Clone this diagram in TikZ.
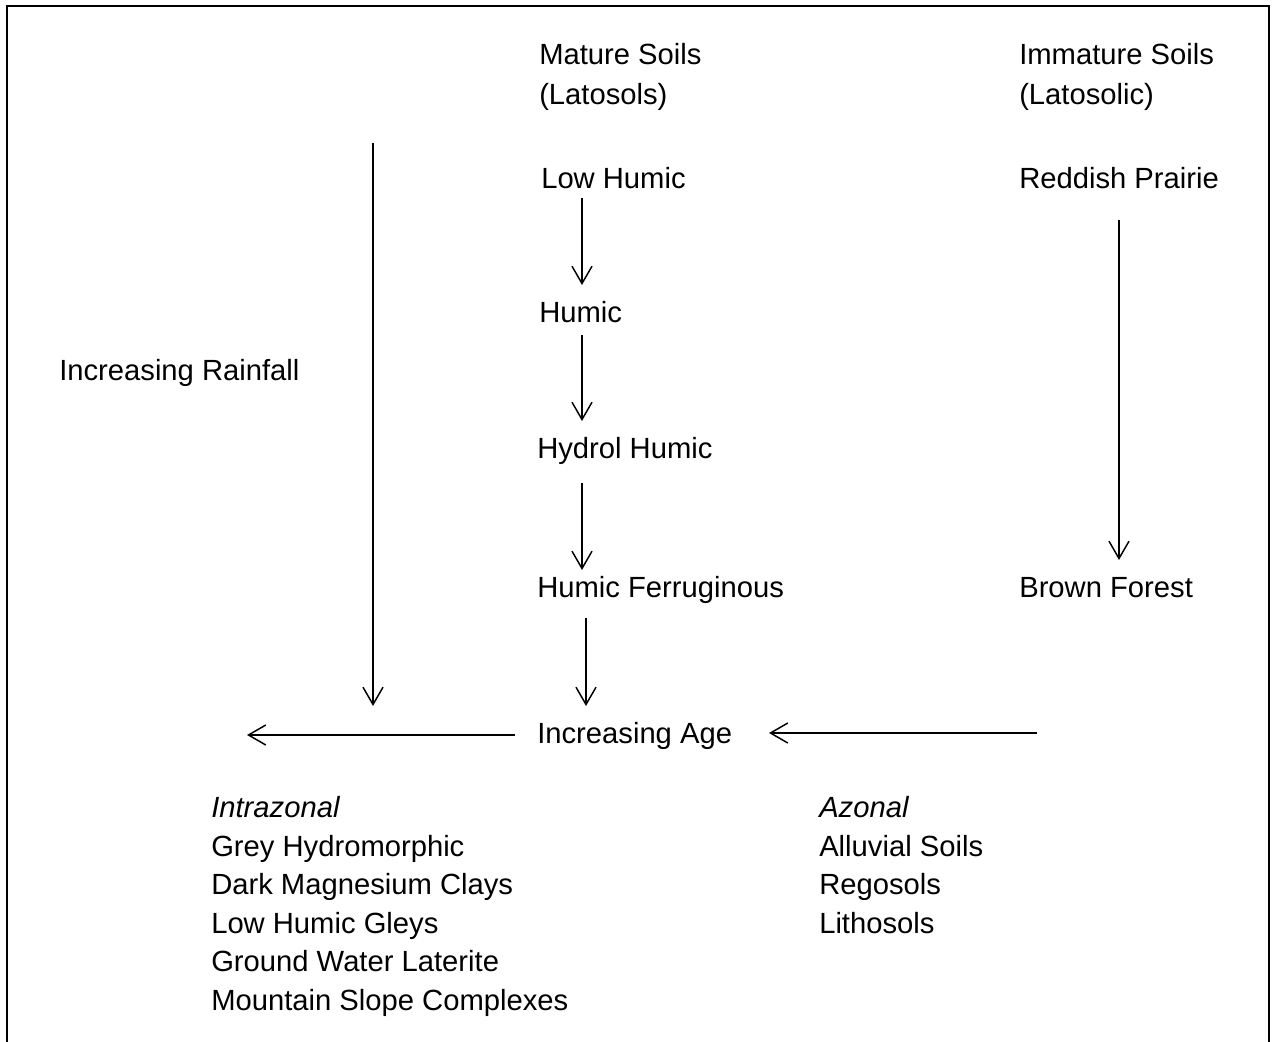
\documentclass[tikz,border=0pt]{standalone}
\usepackage{fontspec}
\setmainfont{Liberation Sans}
\usetikzlibrary{arrows.meta}
\newcommand\fsz{\fontsize{21.9}{28.9}\selectfont}
\begin{document}
\begin{tikzpicture}[x=0.75pt,y=-0.75pt,
  lbl/.style={anchor=base west, inner sep=0pt, font=\fsz},
  arr/.style={line width=1.1pt, -{Straight Barb[length=13pt,width=15pt,line width=1.1pt]}},
  frame/.style={line width=1.5pt}]
\useasboundingbox (0,0) rectangle (1272,1042);
\draw[frame] (7,1042) -- (7,6) -- (1269,6) -- (1269,1042);
% texts
\node[lbl] (ms1) at (539,64) {Mature Soils};
\node[lbl] (ms2) at (539,104) {(Latosols)};
\node[lbl] (is1) at (1019,64) {Immature Soils};
\node[lbl] (is2) at (1019,104) {(Latosolic)};
\node[lbl] (lh) at (541,188) {Low Humic};
\node[lbl] (rp) at (1019,188) {Reddish Prairie};
\node[lbl] (hu) at (539,322) {Humic};
\node[lbl] (ir) at (59,380) {Increasing Rainfall};
\node[lbl] (hh) at (537,458) {Hydrol Humic};
\node[lbl] (hf) at (537,597) {Humic Ferruginous};
\node[lbl] (bf) at (1019,597) {Brown Forest};
\node[lbl] (ia) at (537,743) {Increasing Age};
\node[lbl] (iz) at (211,817) {\itshape Intrazonal};
\node[lbl] (iz1) at (211,856) {Grey Hydromorphic};
\node[lbl] (iz2) at (211,894) {Dark Magnesium Clays};
\node[lbl] (iz3) at (211,933) {Low Humic Gleys};
\node[lbl] (iz4) at (211,971) {Ground Water Laterite};
\node[lbl] (iz5) at (211,1010) {Mountain Slope Complexes};
\node[lbl] (az) at (819,817) {\itshape Azonal};
\node[lbl] (az1) at (819,856) {Alluvial Soils};
\node[lbl] (az2) at (819,894) {Regosols};
\node[lbl] (az3) at (819,933) {Lithosols};
% connector endpoints
\coordinate (r1) at (373,143); \coordinate (r2) at (373,706);
\coordinate (a1) at (582,198); \coordinate (a2) at (582,285);
\coordinate (b1) at (582,335); \coordinate (b2) at (582,421);
\coordinate (c1) at (582,483); \coordinate (c2) at (582,570);
\coordinate (d1) at (586,618); \coordinate (d2) at (586,706);
\coordinate (e1) at (1119,220); \coordinate (e2) at (1119,560);
\coordinate (f1) at (515,735); \coordinate (f2) at (247,735);
\coordinate (g1) at (1037,733); \coordinate (g2) at (769,733);
\draw[arr] (r1) -- (r2);
\draw[arr] (a1) -- (a2);
\draw[arr] (b1) -- (b2);
\draw[arr] (c1) -- (c2);
\draw[arr] (d1) -- (d2);
\draw[arr] (e1) -- (e2);
\draw[arr] (f1) -- (f2);
\draw[arr] (g1) -- (g2);
\end{tikzpicture}
\end{document}
